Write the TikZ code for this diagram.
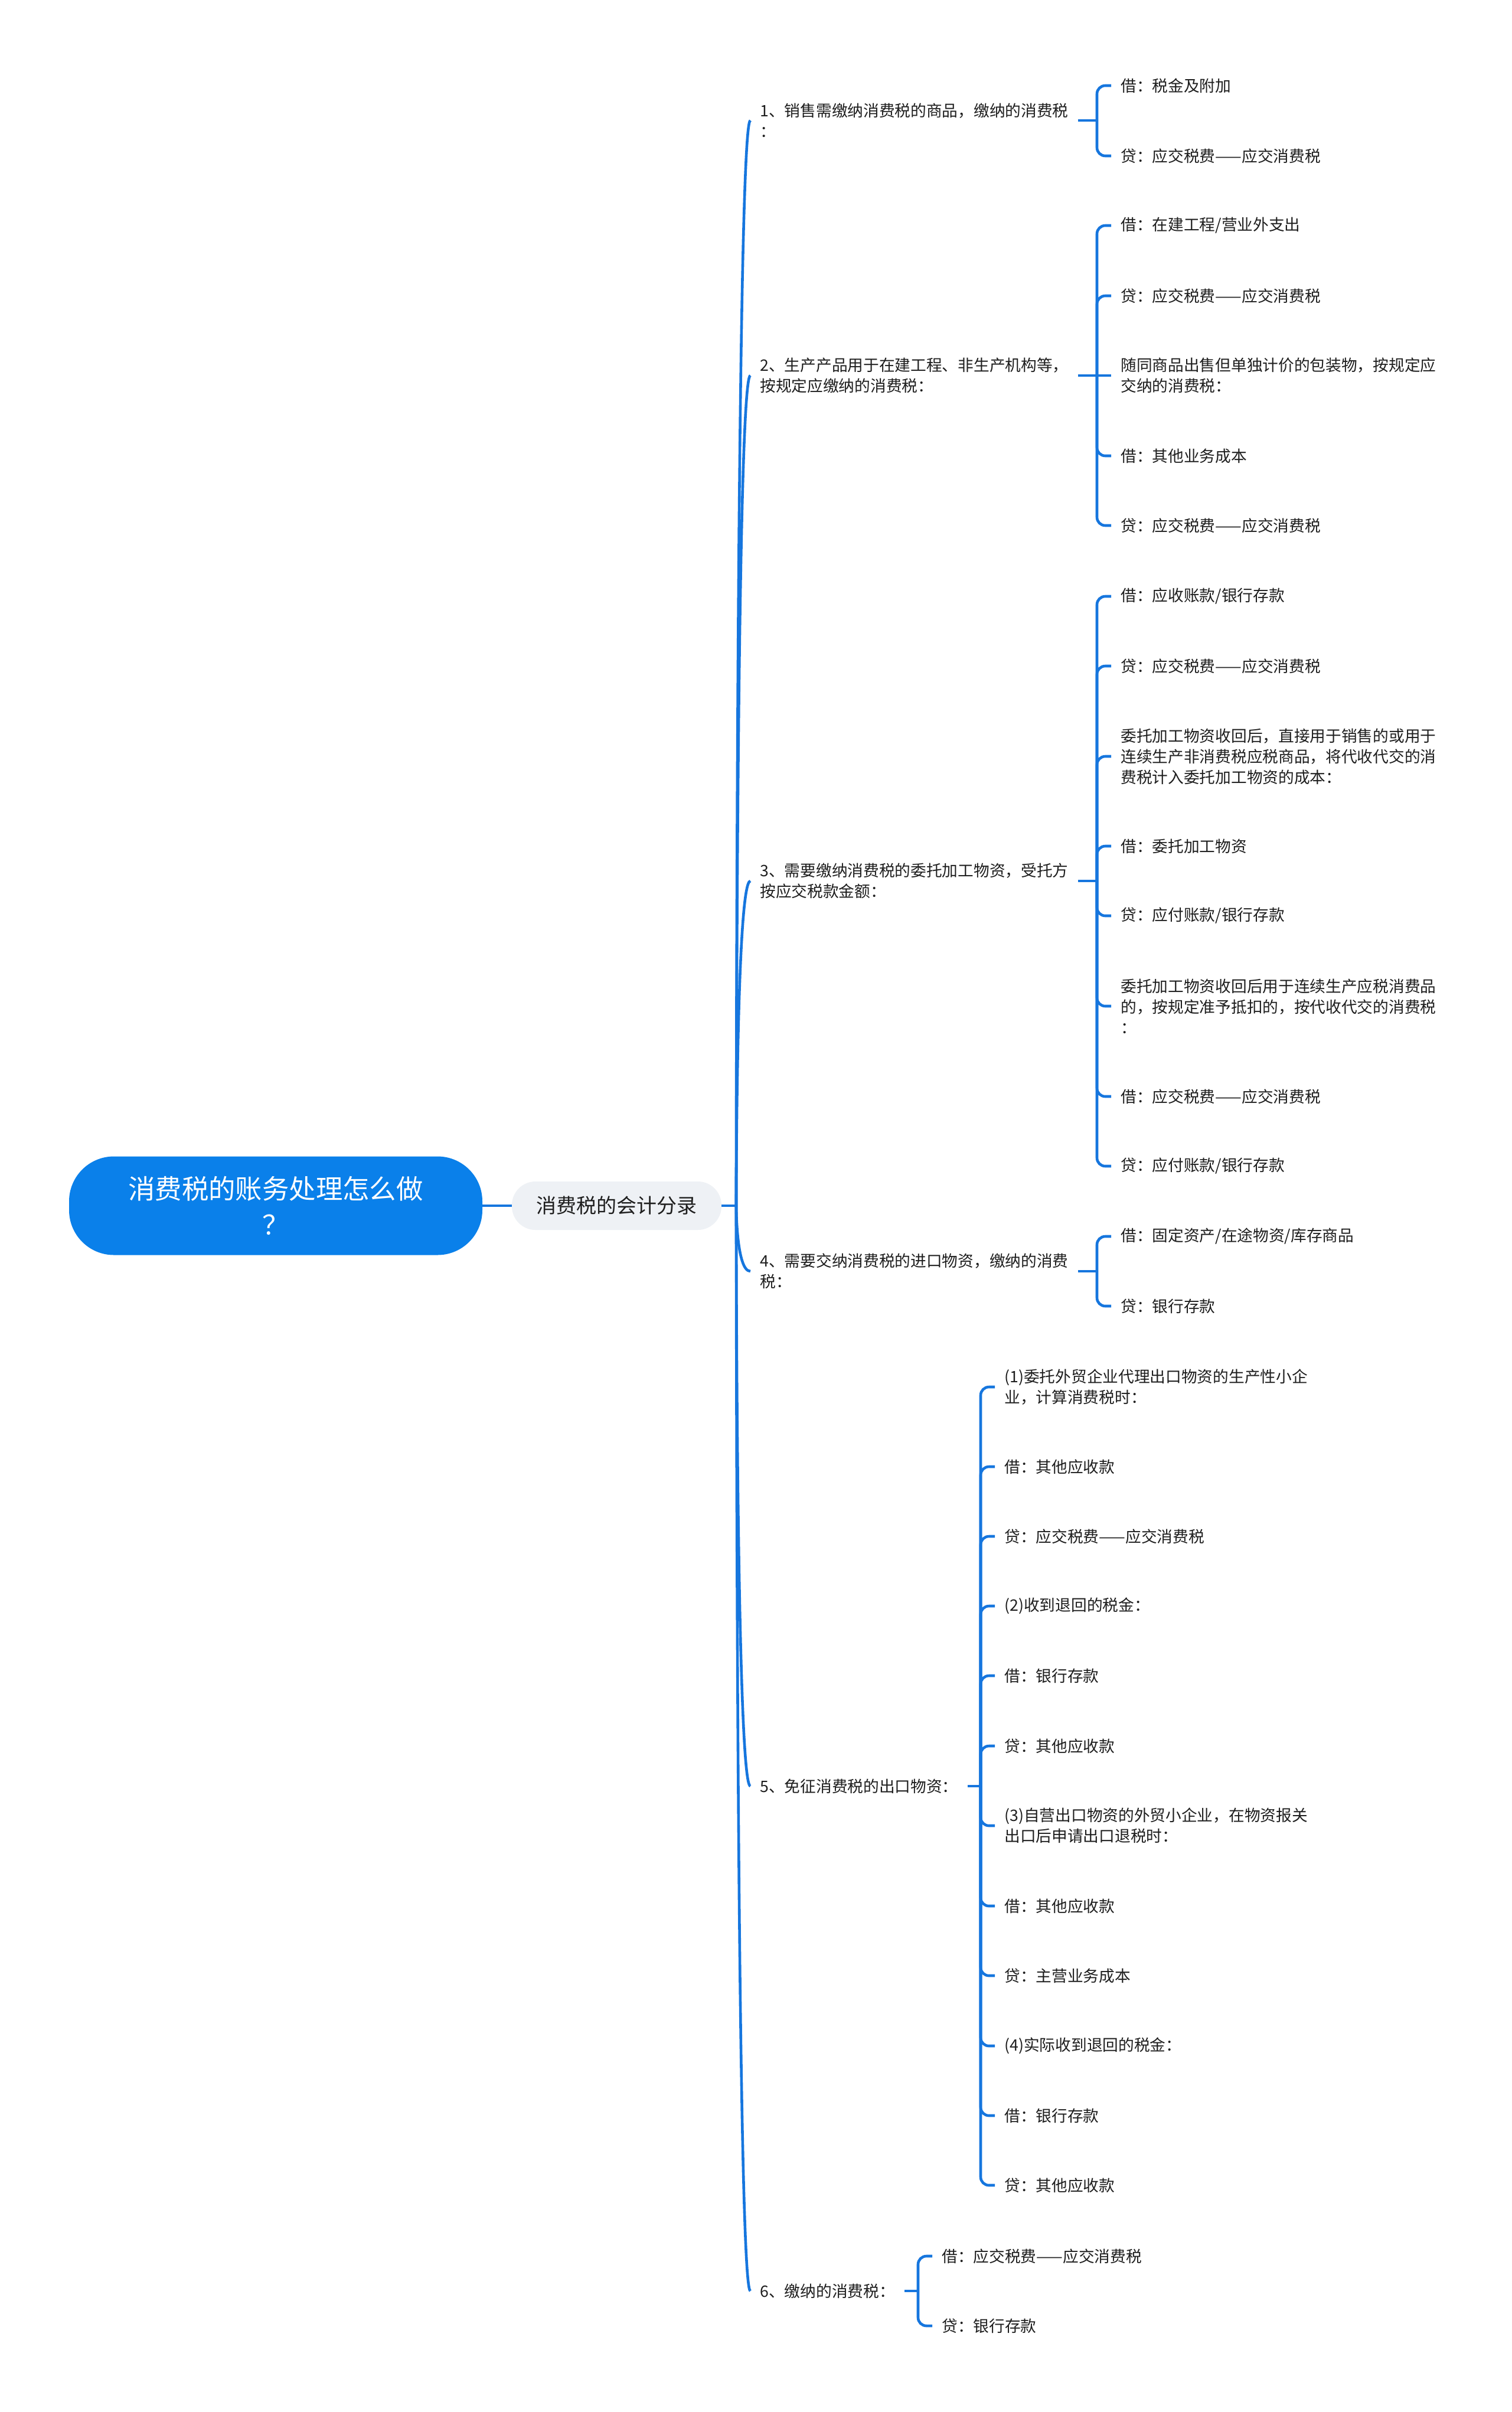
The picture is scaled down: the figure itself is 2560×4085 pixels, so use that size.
\documentclass[tikz,border=0pt]{standalone}
\usepackage{fontspec}
\setmainfont{Noto Sans CJK SC}
\usepackage{xcolor}
\usepackage{tikz}
\usetikzlibrary{shapes}

\definecolor{RootBlue}{RGB}{10,128,234}
\definecolor{LineBlue}{RGB}{22,118,222}
\definecolor{TopicGray}{RGB}{238,241,245}
\definecolor{InkGray}{RGB}{30,30,30}

\begin{document}
\begin{tikzpicture}[x=0.5pt, y=-0.5pt,
  root/.style={rectangle, rounded corners=38pt, fill=RootBlue, text=white,
    minimum width=350pt, minimum height=83.5pt, align=center,
    font=\fontsize{22.7pt}{30.5pt}\selectfont},
  %
  topic/.style={rectangle, rounded corners=20pt, fill=TopicGray, text=InkGray,
    minimum width=177.5pt, minimum height=41pt,
    font=\fontsize{17pt}{20pt}\selectfont},
  %
  item/.style={anchor=west, align=left, inner xsep=8pt, inner ysep=3pt,
    text=InkGray, font=\fontsize{13.35pt}{17.5pt}\selectfont},
  %
  leaf/.style={item},
  %
  link/.style={draw=LineBlue, line width=2.3pt},
  %
  hook/.style={link, rounded corners=7pt}
  ]

  \fill[white] (0,0) rectangle (2560,4085);
  \useasboundingbox (0,0) rectangle (2560,4085);

  \begin{scope}
    %%%%%%%%%%%%%%%%%%%%%%%%%%%%%%%
    \node [root] (root) at (467,2042) {消费税的账务处理怎么做\\？};
    \node [topic] (fenlu) at (1044.5,2042) {消费税的会计分录};
    \coordinate (hub) at (1247,2042);
    %%%%%%%%%%%%%%%%%%%%%%%%%%%%%%%
    \node [item] (i1) at (1271,204) {1、销售需缴纳消费税的商品，缴纳的消费税\\：};
    \node [item] (i2) at (1271,636) {2、生产产品用于在建工程、非生产机构等，\\按规定应缴纳的消费税：};
    \node [item] (i3) at (1271,1492) {3、需要缴纳消费税的委托加工物资，受托方\\按应交税款金额：};
    \node [item] (i4) at (1271,2153) {4、需要交纳消费税的进口物资，缴纳的消费\\税：};
    \node [item] (i5) at (1271,3025) {5、免征消费税的出口物资：};
    \node [item] (i6) at (1271,3880) {6、缴纳的消费税：};
    %%%%%%%%%%%%%%%%%%%%%%%%%%%%%%%
    \node [leaf] (c11) at (1882,145) {借：税金及附加};
    \node [leaf] (c12) at (1882,264) {贷：应交税费——应交消费税};
    %%%%%%%%%%%%%%%%%%%%%%%%%%%%%%%
    \node [leaf] (c21) at (1882,382) {借：在建工程/营业外支出};
    \node [leaf] (c22) at (1882,501) {贷：应交税费——应交消费税};
    \node [leaf] (c23) at (1882,636) {随同商品出售但单独计价的包装物，按规定应\\交纳的消费税：};
    \node [leaf] (c24) at (1882,772) {借：其他业务成本};
    \node [leaf] (c25) at (1882,890) {贷：应交税费——应交消费税};
    %%%%%%%%%%%%%%%%%%%%%%%%%%%%%%%
    \node [leaf] (c31) at (1882,1010) {借：应收账款/银行存款};
    \node [leaf] (c32) at (1882,1128) {贷：应交税费——应交消费税};
    \node [leaf] (c33) at (1882,1281) {委托加工物资收回后，直接用于销售的或用于\\连续生产非消费税应税商品，将代收代交的消\\费税计入委托加工物资的成本：};
    \node [leaf] (c34) at (1882,1433) {借：委托加工物资};
    \node [leaf] (c35) at (1882,1551) {贷：应付账款/银行存款};
    \node [leaf] (c36) at (1882,1704) {委托加工物资收回后用于连续生产应税消费品\\的，按规定准予抵扣的，按代收代交的消费税\\：};
    \node [leaf] (c37) at (1882,1857) {借：应交税费——应交消费税};
    \node [leaf] (c38) at (1882,1975) {贷：应付账款/银行存款};
    %%%%%%%%%%%%%%%%%%%%%%%%%%%%%%%
    \node [leaf] (c41) at (1882,2094) {借：固定资产/在途物资/库存商品};
    \node [leaf] (c42) at (1882,2212) {贷：银行存款};
    %%%%%%%%%%%%%%%%%%%%%%%%%%%%%%%
    \node [leaf] (c51) at (1685,2349) {(1)委托外贸企业代理出口物资的生产性小企\\业，计算消费税时：};
    \node [leaf] (c52) at (1685,2484) {借：其他应收款};
    \node [leaf] (c53) at (1685,2602) {贷：应交税费——应交消费税};
    \node [leaf] (c54) at (1685,2720) {(2)收到退回的税金：};
    \node [leaf] (c55) at (1685,2838) {借：银行存款};
    \node [leaf] (c56) at (1685,2957) {贷：其他应收款};
    \node [leaf] (c57) at (1685,3092) {(3)自营出口物资的外贸小企业，在物资报关\\出口后申请出口退税时：};
    \node [leaf] (c58) at (1685,3228) {借：其他应收款};
    \node [leaf] (c59) at (1685,3346) {贷：主营业务成本};
    \node [leaf] (c510) at (1685,3465) {(4)实际收到退回的税金：};
    \node [leaf] (c511) at (1685,3583) {借：银行存款};
    \node [leaf] (c512) at (1685,3701) {贷：其他应收款};
    %%%%%%%%%%%%%%%%%%%%%%%%%%%%%%%
    \node [leaf] (c61) at (1579,3821) {借：应交税费——应交消费税};
    \node [leaf] (c62) at (1579,3939) {贷：银行存款};
  \end{scope}

  \begin{scope}
    % bracket points
    \coordinate (b1) at (1858,204);
    \coordinate (b2) at (1858,636);
    \coordinate (b3) at (1858,1492);
    \coordinate (b4) at (1858,2153);
    \coordinate (b5) at (1661,3025);
    \coordinate (b6) at (1555,3880);

    \draw [link] (root) -- (fenlu);
    \draw [link] (fenlu.east) -- (hub);
    \foreach \n in {1,...,6}
      \draw [link] (hub) .. controls (hub) and (hub |- i\n.west) .. (i\n.west);
    \foreach \n in {1,...,6}
      \draw [link] (i\n.east) -- (b\n);

    \foreach \c in {c11,c12} \draw [hook] (b1) |- (\c.west);
    \foreach \c in {c21,c22,c24,c25} \draw [hook] (b2) |- (\c.west);
    \draw [link] (b2) -- (c23.west);
    \foreach \c in {c31,c32,c33,c34,c35,c36,c37,c38} \draw [hook] (b3) |- (\c.west);
    \foreach \c in {c41,c42} \draw [hook] (b4) |- (\c.west);
    \foreach \c in {c51,c52,c53,c54,c55,c56,c57,c58,c59,c510,c511,c512}
      \draw [hook] (b5) |- (\c.west);
    \foreach \c in {c61,c62} \draw [hook] (b6) |- (\c.west);
  \end{scope}

\end{tikzpicture}
\end{document}
